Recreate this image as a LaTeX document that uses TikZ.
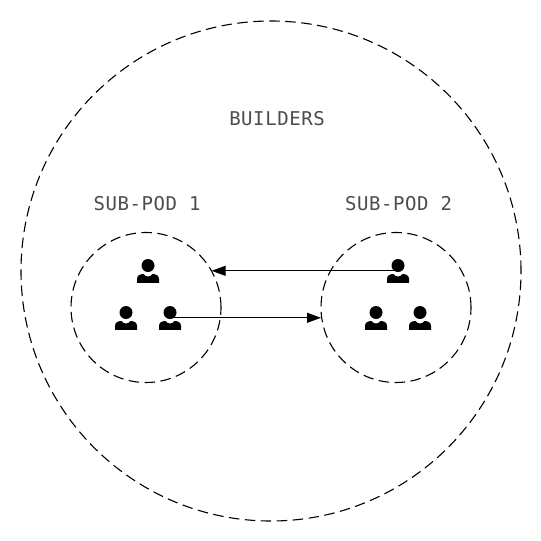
\documentclass[tikz,border=0pt]{standalone}
\usepackage{fontspec}
\setmonofont[LetterSpace=3]{DejaVu Sans Mono}
\usetikzlibrary{positioning,arrows.meta}
\begin{document}
\begin{tikzpicture}[
  x=1pt,y=-1pt,
  font=\ttfamily\fontsize{19}{24}\selectfont,
  pod/.style={draw,circle,inner sep=0pt,outer sep=0pt,line width=1.1pt,dash pattern=on 10.5pt off 5.5pt},
  lab/.style={inner sep=0pt,text=black!70},
  arr/.style={-{Triangle[length=14pt,width=10pt]},line width=1.1pt},
  headn/.style={circle,fill=black,inner sep=0pt,minimum size=13pt},
  pics/person/.style={code={
    \node[headn] (-head) at (0,0) {};
    \coordinate (-neck) at (0,5.3);
    \fill (-11,17.3) -- (-11,13.5) .. controls (-11,10) and (-8,8.5) .. (-4.5,8.5)
      .. controls (-3,10.5) and (-1.5,11) .. (0,11) .. controls (1.5,11) and (3,10.5) .. (4.5,8.5)
      .. controls (8,8.5) and (11,10) .. (11,13.5) -- (11,17.3) -- cycle;
  }}
]
\useasboundingbox (0,0) rectangle (541,541);
\node[pod,minimum size=500pt] (builders) at (271,271) {};
\node[pod,minimum size=150pt] (sp1) at (146,307.5) {};
\node[pod,minimum size=150pt,right=100pt of sp1] (sp2) {};

\node[lab] (blab) at (277,118.5) {BUILDERS};
\node[lab,above=21.5pt of sp1,xshift=1pt] (lab1) {SUB-POD 1};
\node[lab,above=21.5pt of sp2,xshift=2.5pt] (lab2) {SUB-POD 2};

\pic (a1) at (148,265.5) {person};
\pic (a2) at (126,312.5) {person};
\pic (a3) at (170,312.5) {person};
\pic (b1) at (398,265.5) {person};
\pic (b2) at (376,312.5) {person};
\pic (b3) at (420,312.5) {person};

\draw[arr] (b1-neck) -- (b1-neck -| sp1.29);
\draw[arr] (a3-neck) -- (a3-neck -| sp2.west);
\end{tikzpicture}
\end{document}
